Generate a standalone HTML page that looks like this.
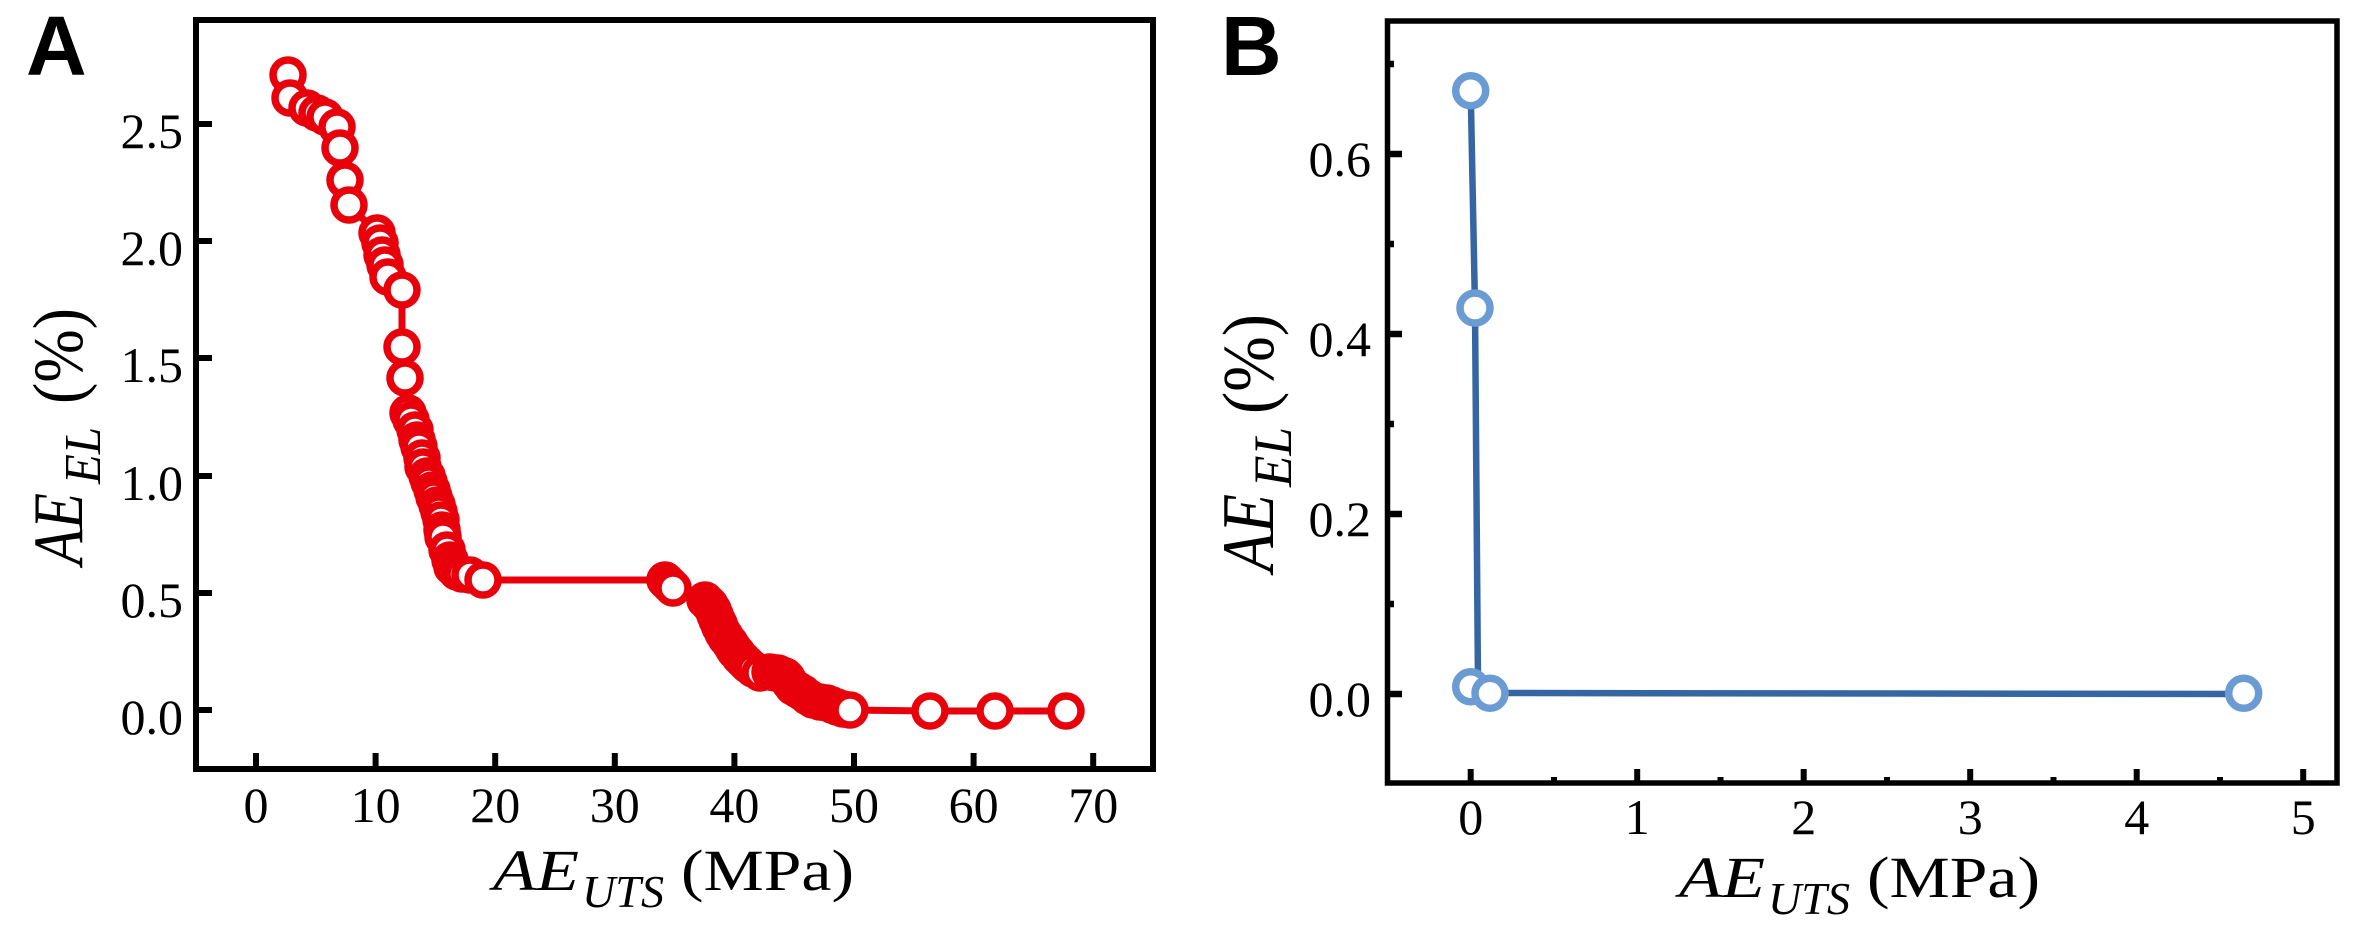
<!DOCTYPE html>
<html><head><meta charset="utf-8"><style>
html,body{margin:0;padding:0;background:#fff;}
svg{display:block;}
text{font-family:"Liberation Serif","DejaVu Serif",serif;fill:#000;}
.t{font-size:50px;}
.lab{font-family:"Liberation Sans","DejaVu Sans",sans-serif;font-weight:bold;font-size:84px;}
</style></head><body>
<svg width="2362" height="935" viewBox="0 0 2362 935" xmlns="http://www.w3.org/2000/svg">
<rect x="0" y="0" width="2362" height="935" fill="#fff"/>

<!-- ============ PANEL A ============ -->
<text class="lab" x="26" y="75">A</text>

<polyline fill="none" stroke="#e8000b" stroke-width="7" stroke-linejoin="round" points="288,75 290,98 307,108 317,113 325,117 337,127 340,148 345,180 349,205 377,233 380,243 382,255 385,265 388,277 402,290 402,347 405,378 408,413 411,420 415,430 417,440 419,447 422,458 423,467 427,476 429,482 432,490 434,497 437,505 439,512 441,520 442,530 443,537 447,550 450,560 452,567 457,572 462,574 470,575 483,580 665,580 667,582 670,585 673,588 705,600 708,603 710,605 713,610 715,615 717,620 719,624 720,627 723,633 725,636 726,638 730,643 733,648 735,651 737,653 740,657 743,660 746,663 748,665 753,669 760,673 770,672 775,673 778,673 782,675 785,676 787,678 790,683 793,687 798,690 803,693 808,697 813,700 820,702 827,703 832,705 837,707 843,709 850,710 930,711 995,711 1066,711"/>

<g fill="#fff" stroke="#e8000b" stroke-width="7.5">
<circle cx="288" cy="75" r="15"/><circle cx="290" cy="98" r="15"/><circle cx="307" cy="108" r="15"/><circle cx="317" cy="113" r="15"/><circle cx="325" cy="117" r="15"/><circle cx="337" cy="127" r="15"/><circle cx="340" cy="148" r="15"/><circle cx="345" cy="180" r="15"/><circle cx="349" cy="205" r="15"/>
<circle cx="377" cy="233" r="15"/><circle cx="380" cy="243" r="15"/><circle cx="382" cy="255" r="15"/><circle cx="385" cy="265" r="15"/><circle cx="388" cy="277" r="15"/><circle cx="402" cy="290" r="15"/>
<circle cx="402" cy="347" r="15"/><circle cx="405" cy="378" r="15"/>
<circle cx="408" cy="413" r="15"/><circle cx="411" cy="420" r="15"/><circle cx="415" cy="430" r="15"/><circle cx="417" cy="440" r="15"/><circle cx="419" cy="447" r="15"/><circle cx="422" cy="458" r="15"/><circle cx="423" cy="467" r="15"/><circle cx="427" cy="476" r="15"/><circle cx="429" cy="482" r="15"/><circle cx="432" cy="490" r="15"/><circle cx="434" cy="497" r="15"/><circle cx="437" cy="505" r="15"/><circle cx="439" cy="512" r="15"/><circle cx="441" cy="520" r="15"/><circle cx="442" cy="530" r="15"/><circle cx="443" cy="537" r="15"/><circle cx="447" cy="550" r="15"/><circle cx="450" cy="560" r="15"/><circle cx="452" cy="567" r="15"/><circle cx="457" cy="572" r="15"/><circle cx="462" cy="574" r="15"/><circle cx="470" cy="575" r="15"/><circle cx="483" cy="580" r="15"/>
<circle cx="665" cy="580" r="15"/><circle cx="667" cy="582" r="15"/><circle cx="670" cy="585" r="15"/><circle cx="673" cy="588" r="15"/>
<circle cx="705" cy="600" r="15"/><circle cx="708" cy="603" r="15"/><circle cx="710" cy="605" r="15"/><circle cx="713" cy="610" r="15"/><circle cx="715" cy="615" r="15"/><circle cx="717" cy="620" r="15"/><circle cx="719" cy="624" r="15"/><circle cx="720" cy="627" r="15"/><circle cx="723" cy="633" r="15"/><circle cx="725" cy="636" r="15"/><circle cx="726" cy="638" r="15"/><circle cx="730" cy="643" r="15"/><circle cx="733" cy="648" r="15"/><circle cx="735" cy="651" r="15"/><circle cx="737" cy="653" r="15"/><circle cx="740" cy="657" r="15"/><circle cx="743" cy="660" r="15"/><circle cx="746" cy="663" r="15"/><circle cx="748" cy="665" r="15"/><circle cx="753" cy="669" r="15"/><circle cx="760" cy="673" r="15"/>
<circle cx="770" cy="672" r="15"/><circle cx="775" cy="673" r="15"/><circle cx="778" cy="673" r="15"/><circle cx="782" cy="675" r="15"/><circle cx="785" cy="676" r="15"/><circle cx="787" cy="678" r="15"/><circle cx="790" cy="683" r="15"/><circle cx="793" cy="687" r="15"/><circle cx="798" cy="690" r="15"/><circle cx="803" cy="693" r="15"/><circle cx="808" cy="697" r="15"/><circle cx="813" cy="700" r="15"/><circle cx="820" cy="702" r="15"/><circle cx="827" cy="703" r="15"/><circle cx="832" cy="705" r="15"/><circle cx="837" cy="707" r="15"/><circle cx="843" cy="709" r="15"/><circle cx="850" cy="710" r="15"/>
<circle cx="930" cy="711" r="15"/><circle cx="995" cy="711" r="15"/><circle cx="1066" cy="711" r="15"/>
</g>

<rect x="196" y="20" width="957" height="749" fill="none" stroke="#000" stroke-width="6"/>
<g stroke="#000" stroke-width="6">
<line x1="196" y1="710" x2="212" y2="710"/>
<line x1="196" y1="593" x2="212" y2="593"/>
<line x1="196" y1="476" x2="212" y2="476"/>
<line x1="196" y1="358" x2="212" y2="358"/>
<line x1="196" y1="241" x2="212" y2="241"/>
<line x1="196" y1="124" x2="212" y2="124"/>
</g>
<g stroke="#000" stroke-width="6">
<line x1="256" y1="769" x2="256" y2="753"/>
<line x1="375.6" y1="769" x2="375.6" y2="753"/>
<line x1="495.2" y1="769" x2="495.2" y2="753"/>
<line x1="614.8" y1="769" x2="614.8" y2="753"/>
<line x1="734.4" y1="769" x2="734.4" y2="753"/>
<line x1="854" y1="769" x2="854" y2="753"/>
<line x1="973.6" y1="769" x2="973.6" y2="753"/>
<line x1="1093.2" y1="769" x2="1093.2" y2="753"/>
</g>
<g text-anchor="end">
<text class="t" x="183" y="734">0.0</text>
<text class="t" x="183" y="617">0.5</text>
<text class="t" x="183" y="500">1.0</text>
<text class="t" x="183" y="382">1.5</text>
<text class="t" x="183" y="265">2.0</text>
<text class="t" x="183" y="148">2.5</text>
</g>
<g text-anchor="middle">
<text class="t" x="256" y="822">0</text>
<text class="t" x="375.6" y="822">10</text>
<text class="t" x="495.2" y="822">20</text>
<text class="t" x="614.8" y="822">30</text>
<text class="t" x="734.4" y="822">40</text>
<text class="t" x="854" y="822">50</text>
<text class="t" x="973.6" y="822">60</text>
<text class="t" x="1093.2" y="822">70</text>
</g>
<text x="493" y="890" font-size="58" font-style="italic" textLength="86" lengthAdjust="spacingAndGlyphs">AE</text>
<text x="582" y="907" font-size="45" font-style="italic" textLength="82" lengthAdjust="spacingAndGlyphs">UTS</text>
<text x="681" y="890" font-size="58" textLength="173" lengthAdjust="spacingAndGlyphs">(MPa)</text>
<g transform="translate(82,565) scale(1.18,1) rotate(-90)"><text x="0" y="0" font-size="60" font-style="italic" textLength="72" lengthAdjust="spacingAndGlyphs">AE</text></g>
<g transform="translate(100,484) scale(1.18,1) rotate(-90)"><text x="0" y="0" font-size="44" font-style="italic" textLength="57" lengthAdjust="spacingAndGlyphs">EL</text></g>
<g transform="translate(82,404) scale(1.18,1) rotate(-90)"><text x="0" y="0" font-size="60" textLength="96" lengthAdjust="spacingAndGlyphs">(%)</text></g>

<!-- ============ PANEL B ============ -->
<text class="lab" x="1221" y="75">B</text>

<polyline fill="none" stroke="#3566a3" stroke-width="6.5" stroke-linejoin="round" points="1470.7,90.7 1475,308 1478,686 1490,693 2243.7,694"/>
<g fill="#fff" stroke="#6a9bd2" stroke-width="7.5">
<circle cx="1470.7" cy="90.7" r="15"/>
<circle cx="1475" cy="308" r="15"/>
<circle cx="1470.7" cy="686.7" r="15"/>
<circle cx="1490" cy="693.3" r="15"/>
<circle cx="2243.7" cy="693.3" r="15"/>
</g>

<rect x="1387.5" y="21" width="949.5" height="762" fill="none" stroke="#000" stroke-width="5.5"/>
<g stroke="#000" stroke-width="6.5">
<line x1="1387.5" y1="694" x2="1402" y2="694"/>
<line x1="1387.5" y1="514" x2="1402" y2="514"/>
<line x1="1387.5" y1="334" x2="1402" y2="334"/>
<line x1="1387.5" y1="154" x2="1402" y2="154"/>
<line x1="1387.5" y1="604" x2="1394" y2="604"/>
<line x1="1387.5" y1="424" x2="1394" y2="424"/>
<line x1="1387.5" y1="244" x2="1394" y2="244"/>
<line x1="1387.5" y1="64" x2="1394" y2="64"/>
</g>
<g stroke="#000" stroke-width="6">
<line x1="1470.7" y1="783" x2="1470.7" y2="769"/>
<line x1="1637.2" y1="783" x2="1637.2" y2="769"/>
<line x1="1803.7" y1="783" x2="1803.7" y2="769"/>
<line x1="1970.2" y1="783" x2="1970.2" y2="769"/>
<line x1="2136.7" y1="783" x2="2136.7" y2="769"/>
<line x1="2303.2" y1="783" x2="2303.2" y2="769"/>
<line x1="1554" y1="783" x2="1554" y2="777"/>
<line x1="1720.5" y1="783" x2="1720.5" y2="777"/>
<line x1="1887" y1="783" x2="1887" y2="777"/>
<line x1="2053.5" y1="783" x2="2053.5" y2="777"/>
<line x1="2220" y1="783" x2="2220" y2="777"/>
</g>
<g text-anchor="end">
<text class="t" x="1371" y="716">0.0</text>
<text class="t" x="1371" y="536">0.2</text>
<text class="t" x="1371" y="356">0.4</text>
<text class="t" x="1371" y="176">0.6</text>
</g>
<g text-anchor="middle">
<text class="t" x="1470.7" y="834">0</text>
<text class="t" x="1637.2" y="834">1</text>
<text class="t" x="1803.7" y="834">2</text>
<text class="t" x="1970.2" y="834">3</text>
<text class="t" x="2136.7" y="834">4</text>
<text class="t" x="2303.2" y="834">5</text>
</g>
<text x="1679" y="897" font-size="58" font-style="italic" textLength="86" lengthAdjust="spacingAndGlyphs">AE</text>
<text x="1768" y="914" font-size="45" font-style="italic" textLength="82" lengthAdjust="spacingAndGlyphs">UTS</text>
<text x="1867" y="897" font-size="58" textLength="173" lengthAdjust="spacingAndGlyphs">(MPa)</text>
<g transform="translate(1273,572) scale(1.2,1) rotate(-90)"><text x="0" y="0" font-size="62" font-style="italic" textLength="78" lengthAdjust="spacingAndGlyphs">AE</text></g>
<g transform="translate(1291,487) scale(1.2,1) rotate(-90)"><text x="0" y="0" font-size="45" font-style="italic" textLength="60" lengthAdjust="spacingAndGlyphs">EL</text></g>
<g transform="translate(1273,414) scale(1.18,1) rotate(-90)"><text x="0" y="0" font-size="62" textLength="100" lengthAdjust="spacingAndGlyphs">(%)</text></g>
</svg>
</body></html>
